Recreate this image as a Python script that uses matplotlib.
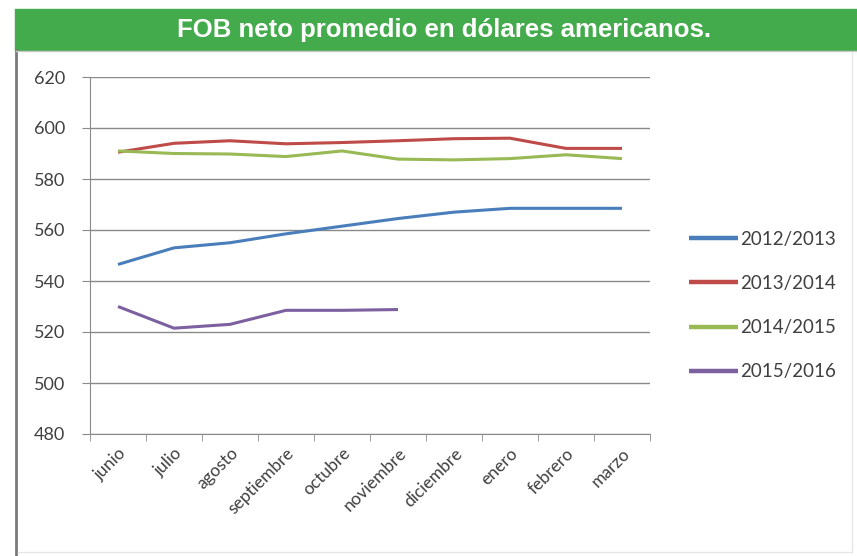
import matplotlib.pyplot as plt
from matplotlib.patches import Rectangle
from matplotlib.lines import Line2D

# months of the season
meses = ['junio', 'julio', 'agosto', 'septiembre', 'octubre', 'noviembre',
         'diciembre', 'enero', 'febrero', 'marzo']

# average net FOB, US dollars
s2012 = [546.5, 553, 555, 558.5, 561.5, 564.5, 567, 568.5, 568.5, 568.5]
s2013 = [590.5, 594, 595, 593.8, 594.3, 595, 595.8, 596, 592, 592]
s2014 = [591, 590, 589.8, 588.8, 591, 587.8, 587.5, 588, 589.5, 588]
s2015 = [530, 521.5, 523, 528.5, 528.5, 528.8]

series = [('2012/2013', s2012, '#4A7EBB'),
          ('2013/2014', s2013, '#BE4B48'),
          ('2014/2015', s2014, '#98B954'),
          ('2015/2016', s2015, '#7D60A0')]

plt.rcParams['font.family'] = ['Lato', 'DejaVu Sans']

fig = plt.figure(figsize=(8.57, 5.56), dpi=100)

# green header band
fig.patches.append(Rectangle((15 / 857, 1 - 50 / 556), 842 / 857, 41 / 556,
                             transform=fig.transFigure, color='#43AB4B', zorder=0))
fig.text(0.518, 1 - 30 / 556, 'FOB neto promedio en dólares americanos.',
         color='white', fontsize=18.5, fontweight='bold', ha='center', va='center',
         family='Liberation Sans')
# frame around the chart
fig.add_artist(Line2D([16 / 857, 16 / 857], [0, 1 - 50 / 556], transform=fig.transFigure,
                      color='#7a7a7a', lw=2))
fig.add_artist(Line2D([16 / 857, 1], [1 - 51 / 556, 1 - 51 / 556], transform=fig.transFigure,
                      color='#c8c8c8', lw=1))
fig.add_artist(Line2D([18 / 857, 852 / 857], [4 / 556, 4 / 556], transform=fig.transFigure,
                      color='#e6e6e6', lw=1))
fig.add_artist(Line2D([852 / 857, 852 / 857], [4 / 556, 1 - 52 / 556], transform=fig.transFigure,
                      color='#e6e6e6', lw=1))

ax = fig.add_axes([90 / 857, 1 - 434 / 556, 560 / 857, 357 / 556])
x = range(len(meses))
for name, vals, col in series:
    ax.plot(range(len(vals)), vals, color=col, lw=2.2, label=name, solid_capstyle='butt')

ax.set_xlim(-0.5, len(meses) - 0.5)
ax.set_ylim(480, 620)
ax.set_yticks(range(480, 621, 20))
ax.yaxis.grid(True, color='#8a8a8a', lw=1)
ax.set_axisbelow(True)

ax.set_xticks(list(x))
ax.set_xticklabels(meses, rotation=45, ha='right', rotation_mode='anchor',
                   fontsize=12.5, color='#404040')
ax.tick_params(axis='x', length=0, pad=8)
ax.set_xticks([i - 0.5 for i in range(len(meses) + 1)], minor=True)
ax.tick_params(axis='x', which='minor', length=5, color='#8a8a8a', direction='out')
ax.tick_params(axis='y', labelsize=13, labelcolor='#404040', length=6, color='#8a8a8a',
               pad=12)

for side in ['top', 'right']:
    ax.spines[side].set_visible(False)
ax.spines['left'].set_color('#8a8a8a')
ax.spines['bottom'].set_color('#8a8a8a')

leg = ax.legend(loc='center left', bbox_to_anchor=(1.04, 0.36), frameon=False,
                fontsize=13.5, handlelength=2.6, handletextpad=0.1, labelspacing=1.45,
                labelcolor='#404040')
for h in leg.get_lines():
    h.set_linewidth(3.2)

fig.savefig('out.png', dpi=100)
